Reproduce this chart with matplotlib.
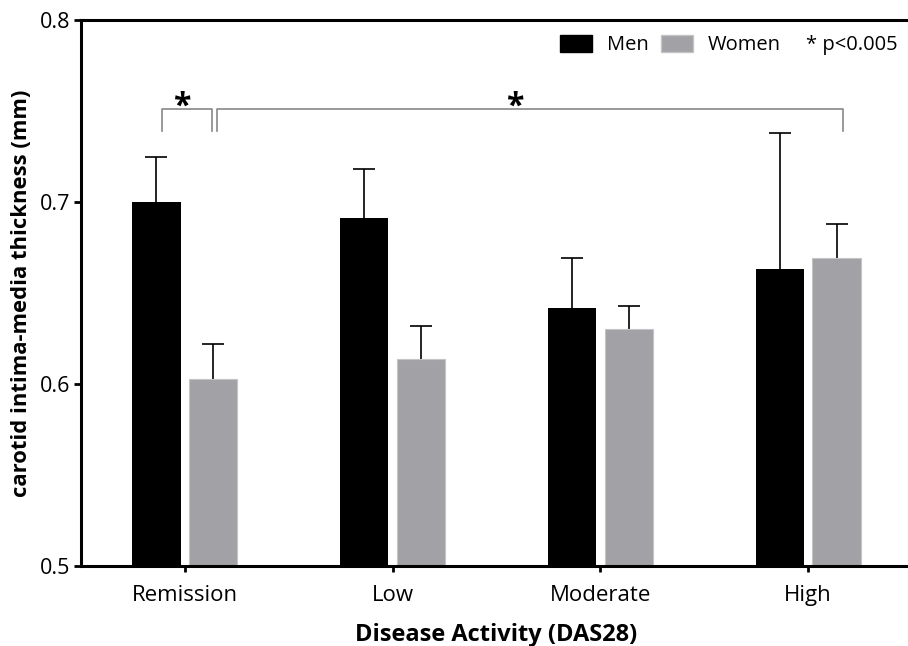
import matplotlib.pyplot as plt
from matplotlib.patches import Patch
import numpy as np

plt.rcParams['font.family'] = ['Open Sans', 'DejaVu Sans']

categories = ['Remission', 'Low', 'Moderate', 'High']
men = [0.700, 0.691, 0.642, 0.663]
men_err = [0.025, 0.027, 0.027, 0.075]
women = [0.603, 0.614, 0.630, 0.669]
women_err = [0.019, 0.018, 0.013, 0.019]

x = np.arange(len(categories))
w = 0.232
off = 0.137

fig = plt.figure(figsize=(9.08, 6.46), dpi=100)
ax = fig.add_axes([81 / 908, 1 - 566 / 646, 831 / 908, 546 / 646])

ax.bar(x - off, men, w, color='black', zorder=2)
ax.bar(x + off, women, w, color='#a2a2a6', edgecolor='#c4c4c6', linewidth=0.8, zorder=2)
for xs, vals, errs in [(x - off, men, men_err), (x + off, women, women_err)]:
    eb = ax.errorbar(xs, vals, yerr=[np.zeros(4), errs], fmt='none', ecolor='black',
                     elinewidth=1.2, capsize=8, capthick=1.2, zorder=1)
    eb[1][0].set_visible(False)

# significance brackets
def bracket(x1, x2, y, h, star_x):
    ax.plot([x1, x1, x2, x2], [y - h, y, y, y - h], color='#888888', lw=1.2)
    ax.text(star_x, y - 0.0078, '*', ha='center', va='bottom', fontsize=23, fontweight='bold')

bracket(-0.11, 0.13, 0.751, 0.012, -0.014)
bracket(0.155, 3.17, 0.751, 0.012, 1.59)

ax.set_ylim(0.5, 0.8)
ax.set_xlim(-0.5, 3.5)
ax.set_yticks([0.5, 0.6, 0.7, 0.8])
ax.set_yticklabels(['0.5', '0.6', '0.7', '0.8'])
ax.set_xticks(x)
ax.set_xticklabels(categories)
ax.tick_params(axis='y', labelsize=15.5, width=2, length=5, pad=3)
ax.tick_params(axis='x', labelsize=16, width=2, length=4, pad=10)

for s in ['left', 'bottom', 'top']:
    ax.spines[s].set_linewidth(2.2)
ax.spines['right'].set_visible(False)

ax.set_xlabel('Disease Activity (DAS28)', fontsize=17, fontweight='bold', labelpad=12)
ax.set_ylabel('carotid intima-media thickness (mm)', fontsize=15.8, fontweight='bold', labelpad=5)

handles = [Patch(facecolor='black', edgecolor='black'),
           Patch(facecolor='#a2a2a6', edgecolor='#c4c4c6')]
ax.legend(handles, ['Men', 'Women'], ncol=2, frameon=False, fontsize=14.5,
          loc='upper left', bbox_to_anchor=(0.555, 1.006), handlelength=1.55,
          handleheight=0.95, columnspacing=0.65, handletextpad=0.75)
ax.text(0.8724, 0.955, '* p<0.005', transform=ax.transAxes, fontsize=14.5, va='center', ha='left')

fig.savefig('out.png', dpi=100)
